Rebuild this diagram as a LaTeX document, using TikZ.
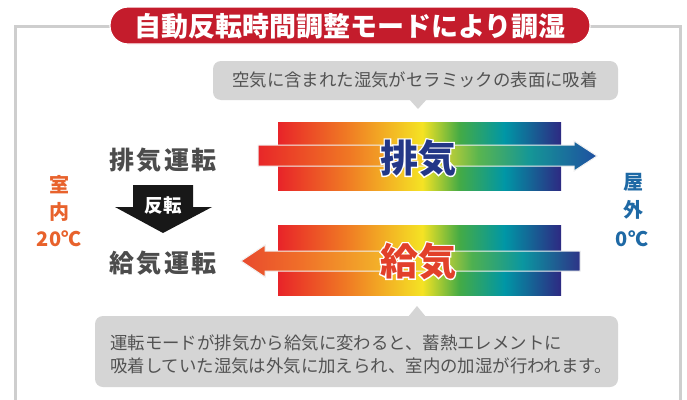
\documentclass[tikz,border=0pt]{standalone}
\usepackage{fontspec}
\setmainfont{Noto Sans CJK JP}
\definecolor{pillred}{RGB}{196,28,44}
\definecolor{framegray}{RGB}{206,206,206}
\definecolor{calloutgray}{RGB}{213,213,213}
\definecolor{calltext}{RGB}{82,82,82}
\definecolor{modetext}{RGB}{76,76,76}
\definecolor{arrowblack}{RGB}{24,24,24}
\definecolor{indoor}{RGB}{232,98,44}
\definecolor{outdoor}{RGB}{30,105,165}
\definecolor{exhaustc}{RGB}{35,55,135}
\definecolor{supplyc}{RGB}{226,64,42}
\pgfdeclarehorizontalshading{blockshade}{100bp}{rgb(0bp)=(0.91,0.14,0.16); rgb(25bp)=(0.91,0.14,0.16); rgb(37.5bp)=(0.94,0.49,0.14); rgb(50.5bp)=(0.96,0.89,0.14); rgb(57bp)=(0.27,0.67,0.27); rgb(65bp)=(0,0.59,0.65); rgb(75bp)=(0.18,0.16,0.51); rgb(100bp)=(0.18,0.16,0.51)}
\pgfdeclarehorizontalshading{stripeA}{100bp}{rgb(0bp)=(0.91,0.15,0.16); rgb(25bp)=(0.91,0.15,0.16); rgb(38.5bp)=(0.94,0.47,0.14); rgb(50.5bp)=(0.96,0.86,0.16); rgb(57.5bp)=(0.35,0.71,0.31); rgb(65bp)=(0.08,0.59,0.59); rgb(75bp)=(0.12,0.31,0.63); rgb(100bp)=(0.12,0.31,0.63)}
\pgfdeclarehorizontalshading{stripeB}{100bp}{rgb(0bp)=(0.91,0.29,0.18); rgb(25bp)=(0.91,0.29,0.18); rgb(33.5bp)=(0.94,0.43,0.16); rgb(53bp)=(0.96,0.86,0.16); rgb(59bp)=(0.31,0.69,0.31); rgb(66.5bp)=(0.04,0.59,0.63); rgb(75bp)=(0.18,0.2,0.53); rgb(100bp)=(0.18,0.2,0.53)}
\tikzset{
  txt/.style={inner sep=0pt, anchor=center},
  calltxt/.style={txt, text=calltext, font=\fontsize{17.4}{23}\selectfont},
  modetxt/.style={txt, text=modetext, font=\fontsize{25}{30}\selectfont\bfseries},
  bigtxt/.style={txt, font=\fontsize{38}{40}\selectfont\bfseries},
  bigout/.style={txt, text=white, font=\fontsize{38}{40}\selectfont\bfseries\addfontfeatures{FakeBold=7}},
  tempin/.style={txt, text=indoor, font=\fontsize{20}{24}\selectfont\bfseries},
  tempout/.style={txt, text=outdoor, font=\fontsize{20}{24}\selectfont\bfseries},
  stripeline/.style={draw=white!88!gray, line width=1pt},
}
\begin{document}
\begin{tikzpicture}[x=1pt, y=-1pt]
\fill[white] (0,0) rectangle (687,399);
\useasboundingbox (0,0) rectangle (687,399);
% frame
\draw[framegray, line width=3pt] (15,402) -- (15,26) -- (680,26) -- (680,402);
% title
\fill[pillred, rounded corners=18pt, draw=white, line width=1.2pt] (110,7) rectangle (590,44);
\node[txt, text=white, font=\fontsize{27}{30}\selectfont\bfseries] (title) at (350,26) {自動反転時間調整モードにより調湿};
% top callout
\fill[calloutgray, rounded corners=8pt] (213,61) rectangle (618,100);
\fill[calloutgray] (409,99) -- (427,99) -- (418,109) -- cycle;
\node[calltxt] (topnote) at (415,80) {空気に含まれた湿気がセラミックの表面に吸着};
% exhaust block
\shade[shading=blockshade] (278,122) rectangle (561,190);
\shadedraw[shading=stripeA, stripeline] (258,145) -- (574,145) -- (574,141) -- (597,156) -- (574,171) -- (574,166) -- (258,166) -- cycle;
% supply block
\shade[shading=blockshade] (278,225) rectangle (561,295);
\shadedraw[shading=stripeB, stripeline] (580,251) -- (265,251) -- (265,245) -- (241,261) -- (265,277) -- (265,271) -- (580,271) -- cycle;
% big labels with white outline
\node[bigout] (exhout) at (418,158) {排気};
\node[bigout] (supout) at (418,261) {給気};
\node[bigtxt, text=exhaustc] (exh) at (418,158) {排気};
\node[bigtxt, text=supplyc] (sup) at (418,261) {給気};
% mode labels
\node[modetxt] (modeA) at (163,160) {排\hspace{2.5pt}気\hspace{2.5pt}運\hspace{2.5pt}転};
\node[modetxt] (modeB) at (163,263) {給\hspace{2.5pt}気\hspace{2.5pt}運\hspace{2.5pt}転};
% reverse arrow
\fill[arrowblack] (133,185) -- (193,185) -- (193,207) -- (212,207) -- (163,233) -- (115,207) -- (133,207) -- cycle;
\node[txt, text=white, font=\fontsize{18.5}{20}\selectfont\bfseries] (rev) at (163,205) {反転};
% temperatures
\node[tempin] (in1) at (59,185) {室};
\node[tempin] (in2) at (59,212) {内};
\node[tempin] (in3) at (59,239) {20℃};
\node[tempout] (out1) at (633,182) {屋};
\node[tempout] (out2) at (633,210) {外};
\node[tempout] (out3) at (632,239) {0℃};
% bottom callout
\fill[calloutgray, rounded corners=8pt] (95,316) rectangle (618,387);
\fill[calloutgray] (408,317) -- (426,317) -- (417,306) -- cycle;
\node[calltxt, anchor=west] (bot1) at (110,343) {運転モードが排気から給気に変わると、蓄熱エレメントに};
\node[calltxt, anchor=west] (bot2) at (110,366) {吸着していた湿気は外気に加えられ、室内の加湿が行われます。};
\end{tikzpicture}
\end{document}
